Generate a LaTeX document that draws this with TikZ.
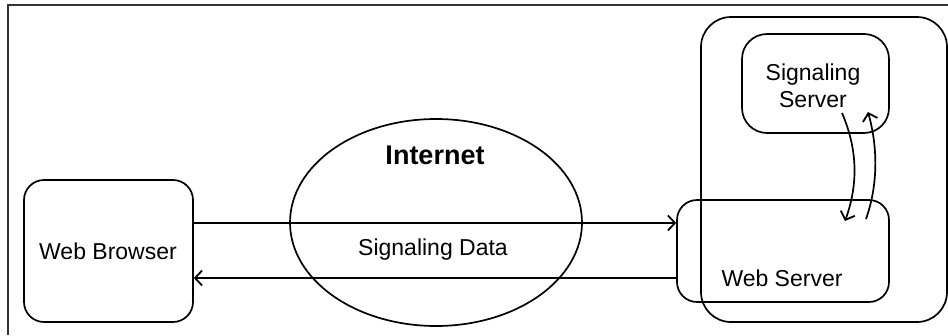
\documentclass[tikz,border=0pt]{standalone}
\usepackage{fontspec}
\setmainfont{Liberation Sans}
\usetikzlibrary{arrows.meta,shapes.geometric,calc}
\begin{document}
\begin{tikzpicture}[x=1pt,y=-1pt,
  line width=1.7pt,
  every node/.style={inner sep=0pt},
  box/.style={draw,rounded corners=#1},
  box/.default=20pt,
  lbl/.style={font=\fontsize{23}{27}\selectfont,align=center},
  arr/.style={-{Straight Barb[length=7pt,width=15pt,line width=1.8pt]}}
]
\useasboundingbox (0,0) rectangle (948,335);
% page frame (top and left edges)
\draw[line width=1.6pt,black!80] (8,335) -- (8,5) -- (948,5);

% web browser
\node[box,minimum width=169pt,minimum height=142pt] (browser) at (108.5,251) {};
\node[lbl] (browserlbl) at (108,251) {Web Browser};

% internet cloud
\node[draw,ellipse,minimum width=292pt,minimum height=207pt] (net) at (436,222.5) {};
\node[lbl,font=\fontsize{27}{32}\selectfont\bfseries] (netlbl) at (435,155) {Internet};
\node[lbl] (datalbl) at (433,250) {Signaling Data};

% server host
\node[box=30pt,minimum width=246pt,minimum height=305pt] (host) at (824,169.5) {};
\node[box=25pt,minimum width=147pt,minimum height=99pt] (sig) at (815.5,83.5) {};
\node[lbl] (siglbl) at (813,86) {Signaling\\Server};
\node[box,minimum width=212pt,minimum height=102pt] (ws) at (783,251) {};
\node[lbl] (wslbl) at (782,278) {Web Server};

% signaling traffic over the internet
\draw[arr] ([yshift=28pt]browser.east) -- ([yshift=28pt]browser.east -| ws.west);
\draw[arr] ([yshift=-27pt]browser.east -| ws.west) -- ([yshift=-27pt]browser.east);

% exchange between signaling server and web server
\coordinate (a1) at (842,113);
\coordinate (a2) at (845,221);
\coordinate (b1) at (866,219);
\coordinate (b2) at (868,112);
\draw[arr] (a1) .. controls (858,150) and (858,185) .. (a2);
\draw[arr] (b1) .. controls (878,185) and (878,148) .. (b2);
\end{tikzpicture}
\end{document}
